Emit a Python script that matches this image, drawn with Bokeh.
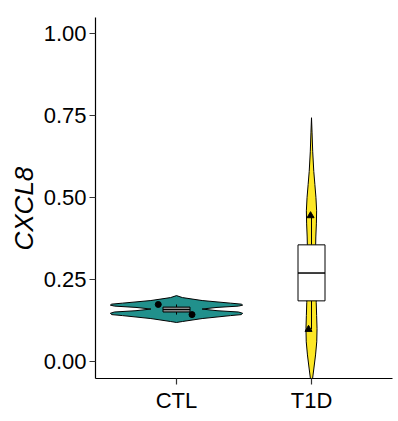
from bokeh.plotting import figure
from bokeh.models import Range1d, FixedTicker, ColumnDataSource, Title
from bokeh.embed import file_html
from bokeh.resources import INLINE

# ---- data ----
categories = ["CTL", "T1D"]
fill_colors = ["#21908C", "#FDE725"]
box_fills = ["#8C8C8C", "#FFFFFF"]

# violin profiles (value, half-width in category units)
ctl_violin_y = [0.119, 0.122, 0.131, 0.140, 0.143, 0.147, 0.151, 0.155, 0.160,
                0.165, 0.169, 0.172, 0.175, 0.178, 0.186, 0.195, 0.201]
ctl_violin_w = [0.0, 0.044, 0.19, 0.40, 0.48, 0.49, 0.46, 0.30, 0.19,
                0.30, 0.46, 0.49, 0.48, 0.40, 0.19, 0.044, 0.0]

t1d_violin_y = [-0.052, -0.02, 0.02, 0.06, 0.10, 0.14, 0.18, 0.22, 0.26, 0.30,
                0.34, 0.38, 0.42, 0.46, 0.50, 0.54, 0.58, 0.64, 0.70, 0.744]
t1d_violin_w = [0.008, 0.018, 0.030, 0.039, 0.041, 0.038, 0.035, 0.033, 0.031, 0.030,
                0.030, 0.032, 0.036, 0.038, 0.033, 0.025, 0.017, 0.009, 0.004, 0.0]

# box stats
box_q1 = [0.151, 0.185]
box_med = [0.1585, 0.270]
box_q3 = [0.166, 0.356]

# observations
ctl_values = [0.174, 0.143]
ctl_jitter = [-0.135, 0.115]
t1d_values = [0.445, 0.098]
t1d_jitter = [-0.007, -0.022]

y_ticks = [0.0, 0.25, 0.5, 0.75, 1.0]
y_tick_labels = ["0.00", "0.25", "0.50", "0.75", "1.00"]
y_title = "CXCL8"

# ---- figure ----
p = figure(width=398, height=419, output_backend="svg", toolbar_location=None,
           x_range=Range1d(0.4, 2.6), y_range=Range1d(-0.052, 1.05),
           min_border_left=95, min_border_right=6, min_border_top=17,
           min_border_bottom=41)
p.outline_line_color = None
p.xgrid.visible = False
p.ygrid.visible = False
p.background_fill_color = "white"
p.border_fill_color = "white"

pos = {c: i + 1 for i, c in enumerate(categories)}

def violin(cat, ys, ws, color):
    c = pos[cat]
    xs = [c + w for w in ws] + [c - w for w in reversed(ws)]
    yy = list(ys) + list(reversed(ys))
    p.patch(xs, yy, fill_color=color, line_color="black", line_width=1)

violin("CTL", ctl_violin_y, ctl_violin_w, fill_colors[0])
violin("T1D", t1d_violin_y, t1d_violin_w, fill_colors[1])

# whiskers to points
for cat, vals, q1, q3 in [("CTL", ctl_values, box_q1[0], box_q3[0]),
                          ("T1D", t1d_values, box_q1[1], box_q3[1])]:
    c = pos[cat]
    p.segment(x0=[c, c], y0=[q3, q1], x1=[c, c], y1=[max(vals), min(vals)],
              line_color="black", line_width=1)

# boxes
bx = [pos[c] for c in categories]
src = ColumnDataSource(dict(x=bx, q1=box_q1, q3=box_q3, med=box_med,
                            fill=box_fills))
p.vbar(x="x", width=0.2, bottom="q1", top="q3", fill_color="fill",
       line_color="black", line_width=1, source=src)
p.rect(x="x", y="med", width=0.2, height=0.0001, fill_color=None,
       line_color="black", line_width=1, source=src)

# points
p.scatter([pos["CTL"] + j for j in ctl_jitter], ctl_values, marker="circle",
          size=6, fill_color="black", line_color="black")
p.scatter([pos["T1D"] + j for j in t1d_jitter], t1d_values, marker="triangle",
          size=7, fill_color="black", line_color="black")

# axes
p.xaxis.ticker = FixedTicker(ticks=[pos[c] for c in categories])
p.xaxis.major_label_overrides = {pos[c]: c for c in categories}
p.yaxis.ticker = FixedTicker(ticks=y_ticks)
p.yaxis.major_label_overrides = {t: l for t, l in zip(y_ticks, y_tick_labels)}

for ax in (p.xaxis[0], p.yaxis[0]):
    ax.axis_line_color = "black"
    ax.axis_line_width = 1.2
    ax.major_tick_line_color = "#333333"
    ax.major_tick_line_width = 1.2
    ax.major_tick_out = 6
    ax.major_tick_in = 0
    ax.minor_tick_line_color = None
    ax.major_label_text_font = "Liberation Sans"
    ax.major_label_text_font_size = "22px"
    ax.major_label_text_color = "black"

p.xaxis.major_label_standoff = 3
p.yaxis.major_label_standoff = 3

t = Title(text=y_title, align="left", offset=128, standoff=4,
          text_font="Liberation Sans", text_font_style="italic",
          text_font_size="26px", text_color="black")
p.add_layout(t, "left")

open("out.html", "w").write(file_html(p, INLINE))
